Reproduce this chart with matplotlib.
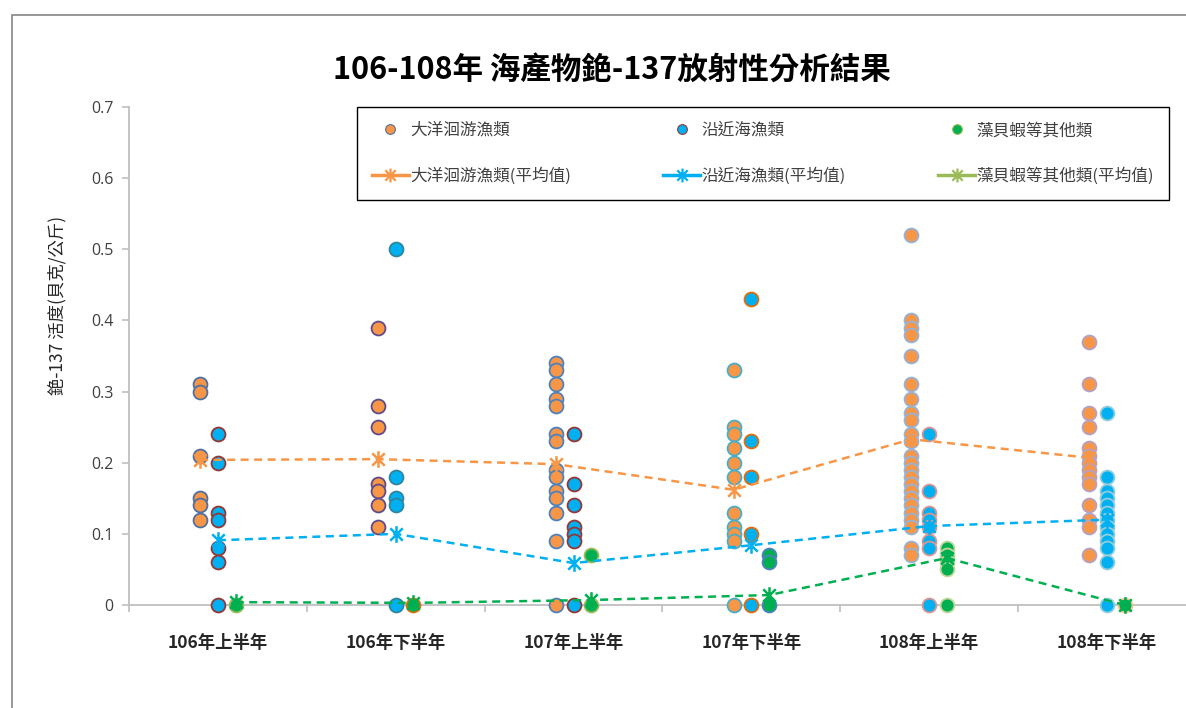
import matplotlib
matplotlib.use('Agg')
import matplotlib.pyplot as plt
from matplotlib.lines import Line2D
from matplotlib.path import Path
from matplotlib.patches import Rectangle

plt.rcParams['font.family'] = ['Noto Sans CJK TC', 'DejaVu Sans']

periods = ['106年上半年', '106年下半年', '107年上半年', '107年下半年', '108年上半年', '108年下半年']

# 大洋洄游漁類
ocean = [
    [0.31, 0.30, 0.21, 0.15, 0.14, 0.12],
    [0.39, 0.28, 0.25, 0.17, 0.16, 0.14, 0.11],
    [0.34, 0.33, 0.31, 0.29, 0.28, 0.24, 0.23, 0.19, 0.18, 0.16, 0.15, 0.13, 0.09, 0.0],
    [0.33, 0.25, 0.24, 0.22, 0.20, 0.18, 0.13, 0.11, 0.10, 0.09, 0.0],
    [0.52, 0.40, 0.39, 0.38, 0.35, 0.31, 0.29, 0.27, 0.26, 0.24, 0.23, 0.21, 0.20,
     0.19, 0.18, 0.17, 0.16, 0.15, 0.14, 0.13, 0.12, 0.11, 0.08, 0.07],
    [0.37, 0.31, 0.27, 0.25, 0.22, 0.21, 0.20, 0.19, 0.18, 0.17, 0.14, 0.12, 0.11, 0.07],
]
# 沿近海漁類
coastal = [
    [0.24, 0.20, 0.13, 0.12, 0.08, 0.06, 0.0],
    [0.50, 0.18, 0.15, 0.14, 0.0],
    [0.24, 0.17, 0.14, 0.11, 0.10, 0.09, 0.0],
    [0.43, 0.23, 0.18, 0.10, 0.0],
    [0.24, 0.16, 0.13, 0.12, 0.11, 0.09, 0.08, 0.0],
    [0.27, 0.18, 0.16, 0.15, 0.14, 0.13, 0.12, 0.11, 0.10, 0.09, 0.08, 0.06, 0.0],
]
# 藻貝蝦等其他類
others = [
    [0.0],
    [0.0],
    [0.07, 0.0],
    [0.07, 0.06, 0.0],
    [0.08, 0.07, 0.06, 0.05, 0.0],
    [0.0],
]
ocean_mean = [0.204, 0.205, 0.198, 0.162, 0.233, 0.207]
coastal_mean = [0.091, 0.100, 0.059, 0.084, 0.111, 0.120]
others_mean = [0.004, 0.003, 0.007, 0.014, 0.066, 0.0]

c_orange = '#F79646'
c_blue = '#00B0F0'
c_green = '#00B050'
c_olive = '#9BBB59'

edge_orange = ['#4F6FA0', '#5F4B8B', '#4F81BD', '#4BACC6', '#95B3D7', '#B3A2C7']
edge_blue = ['#953735', '#31859C', '#953735', '#E46C0A', '#D99694', '#93CDDD']
edge_green = ['#9BBB59', '#E46C0A', '#9BBB59', '#4F81BD', '#C3D69B', '#FAC090']

star = Path([(0, -1), (0, 1), (-0.75, -0.75), (0.75, 0.75), (-0.75, 0.75), (0.75, -0.75)],
            [Path.MOVETO, Path.LINETO] * 3)

fig = plt.figure(figsize=(11.86, 7.08), dpi=100)
ax = fig.add_axes([129 / 1186, 103 / 708, 1 - 129 / 1186, 498 / 708])

centers = [i + 0.5 for i in range(len(periods))]
off = 0.1
for i, c in enumerate(centers):
    ax.scatter([c - off] * len(ocean[i]), ocean[i], s=100, color=c_orange,
               edgecolors=edge_orange[i], linewidths=1.3, zorder=3, clip_on=False)
    ax.scatter([c] * len(coastal[i]), coastal[i], s=100, color=c_blue,
               edgecolors=edge_blue[i], linewidths=1.3, zorder=3, clip_on=False)
    ax.scatter([c + off] * len(others[i]), others[i], s=100, color=c_green,
               edgecolors=edge_green[i], linewidths=1.3, zorder=3, clip_on=False)

for xs_off, m, col in [(-off, ocean_mean, c_orange), (0, coastal_mean, c_blue), (off, others_mean, c_green)]:
    ax.plot([c + xs_off for c in centers], m, color=col, lw=1.8, dashes=(3.2, 2.2),
            marker=star, markersize=12, markeredgewidth=1.8, markerfacecolor='none',
            markeredgecolor=col, zorder=4, clip_on=False)

ax.set_xlim(0, (1186 - 129) / 177.8)
ax.set_ylim(0, 0.7)
ax.set_yticks([0, 0.1, 0.2, 0.3, 0.4, 0.5, 0.6, 0.7])
ax.set_yticklabels(['0', '0.1', '0.2', '0.3', '0.4', '0.5', '0.6', '0.7'],
                   fontfamily='Open Sans', fontsize=11.5, color='#404040')
ax.set_xticks(range(0, 6))
ax.set_xticklabels([])
ax.tick_params(axis='both', direction='out', length=5, color='#BFBFBF', width=1.2)
ax.tick_params(axis='y', pad=6)
for s in ['top', 'right']:
    ax.spines[s].set_visible(False)
for s in ['left', 'bottom']:
    ax.spines[s].set_color('#BFBFBF')
    ax.spines[s].set_linewidth(1.3)

for c, lab in zip(centers, periods):
    ax.text(c, -0.053, lab, ha='center', va='center', fontsize=12.5, fontweight='bold',
            color='#262626', transform=ax.transData)

fig.text(612 / 1186, 1 - 70 / 708, '106-108年 海產物銫-137放射性分析結果', ha='center', va='center',
         fontsize=22, fontweight='bold', color='#000000')
fig.text(57 / 1186, 1 - 305 / 708, '銫-137 活度(貝克/公斤)', rotation=90, ha='center', va='center',
         fontsize=12.5, color='#262626')

handles = [
    Line2D([], [], ls='none', marker='o', markersize=7, color=c_orange, markeredgecolor='#4F6FA0', markeredgewidth=0.8),
    Line2D([], [], color=c_orange, lw=2.5, marker=star, markersize=10, markeredgewidth=1.6,
           markerfacecolor='none', markeredgecolor=c_orange),
    Line2D([], [], ls='none', marker='o', markersize=7, color=c_blue, markeredgecolor='#953735', markeredgewidth=0.8),
    Line2D([], [], color=c_blue, lw=2.5, marker=star, markersize=10, markeredgewidth=1.6,
           markerfacecolor='none', markeredgecolor=c_blue),
    Line2D([], [], ls='none', marker='o', markersize=7, color=c_green, markeredgecolor='#9BBB59', markeredgewidth=0.8),
    Line2D([], [], color=c_olive, lw=2.5, marker=star, markersize=10, markeredgewidth=1.6,
           markerfacecolor='none', markeredgecolor=c_olive),
]
labels = ['大洋洄游漁類', '大洋洄游漁類(平均值)', '沿近海漁類', '沿近海漁類(平均值)',
          '藻貝蝦等其他類', '藻貝蝦等其他類(平均值)']
leg = fig.legend(handles, labels, loc='upper left',
                 bbox_to_anchor=(357 / 1186, 1 - 200 / 708, (1169 - 357) / 1186, 93 / 708),
                 mode='expand', ncol=3, fancybox=False, edgecolor='#000000', framealpha=1,
                 fontsize=12, handlelength=2.2, handletextpad=0.1, labelspacing=1.7,
                 borderpad=0.9, borderaxespad=0)
leg.get_frame().set_linewidth(1.0)
for t in leg.get_texts():
    t.set_color('#404040')

fig.patches.append(Rectangle((12 / 1186, -0.5), 2, 1.5 - 15 / 708, transform=fig.transFigure,
                             fill=False, edgecolor='#868686', linewidth=1.2))

fig.savefig('out.png', dpi=100)
